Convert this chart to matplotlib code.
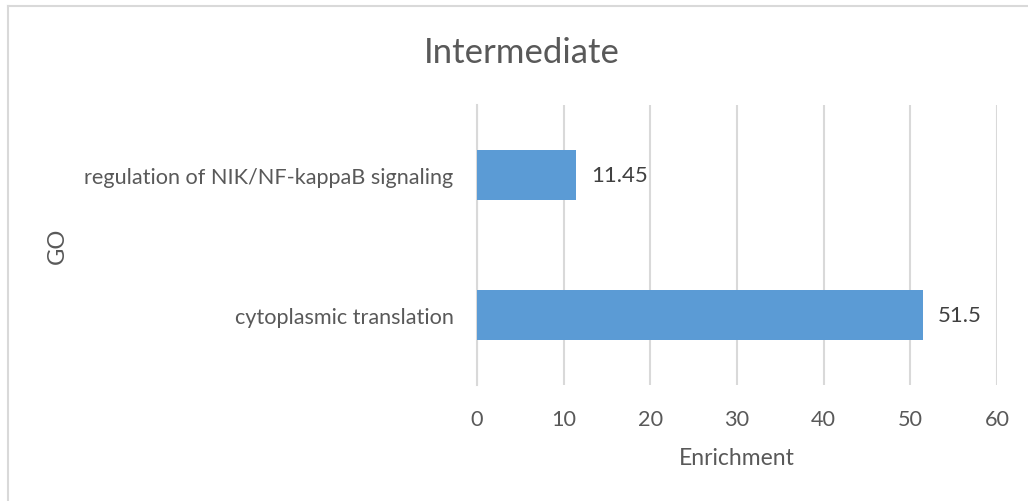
import matplotlib.pyplot as plt
from matplotlib.lines import Line2D

categories = ['cytoplasmic translation', 'regulation of NIK/NF-kappaB signaling']
enrichment = [51.5, 11.45]
value_labels = ['51.5', '11.45']
xticks = [0, 10, 20, 30, 40, 50, 60]

plt.rcParams['font.family'] = ['Lato', 'DejaVu Sans']

fig = plt.figure(figsize=(10.28, 5.02), dpi=100)
ax = fig.add_axes([0.464, 0.231, 0.506, 0.558])

pos = range(len(categories))
ax.barh(pos, enrichment, height=0.355, color='#5B9BD5', zorder=3)
for y, v, lab in zip(pos, enrichment, value_labels):
    ax.text(v + 1.7, y, lab, va='center', ha='left', fontsize=16, color='#404040')

ax.set_xlim(0, 60)
ax.set_ylim(-0.5, 1.5)
ax.set_xticks(xticks)
ax.set_yticks(list(pos))
ax.set_yticklabels(categories)
ax.tick_params(axis='both', length=0, labelsize=15.6, labelcolor='#595959')
ax.tick_params(axis='x', pad=17)
ax.tick_params(axis='y', pad=17)
ax.grid(axis='x', color='#D9D9D9', linewidth=1.5, zorder=0)
for s in ['top', 'right', 'bottom']:
    ax.spines[s].set_visible(False)
ax.spines['left'].set_color('#D9D9D9')
ax.spines['left'].set_linewidth(1.5)

ax.set_xlabel('Enrichment', fontsize=16.5, color='#595959', labelpad=13)
fig.text(0.056, 0.51, 'GO', rotation=90, fontsize=17, color='#595959', ha='center', va='center')
fig.text(0.508, 0.894, 'Intermediate', fontsize=25, color='#595959', ha='center', va='center')

# chart border
fig.add_artist(Line2D([8 / 1028, 8 / 1028], [0, 1 - 7 / 502], transform=fig.transFigure, color='#D9D9D9', lw=1.5))
fig.add_artist(Line2D([8 / 1028, 1], [1 - 7 / 502, 1 - 7 / 502], transform=fig.transFigure, color='#D9D9D9', lw=1.5))

fig.savefig('out.png', dpi=100, facecolor='white')
